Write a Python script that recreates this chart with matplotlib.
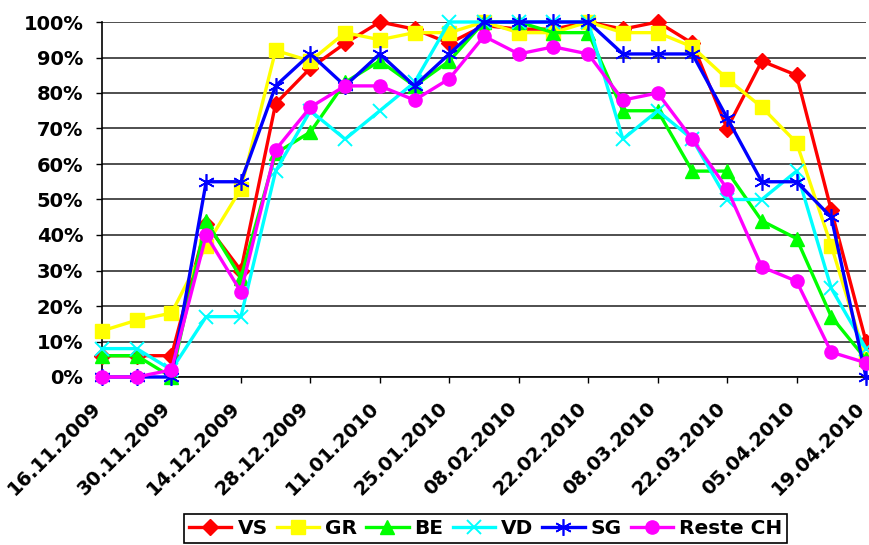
import matplotlib
matplotlib.use("Agg")
import matplotlib.pyplot as plt
from matplotlib.ticker import FuncFormatter, MultipleLocator
from matplotlib.transforms import ScaledTranslation

dates = ["16.11.2009", "23.11.2009", "30.11.2009", "07.12.2009", "14.12.2009",
         "21.12.2009", "28.12.2009", "04.01.2010", "11.01.2010", "18.01.2010",
         "25.01.2010", "01.02.2010", "08.02.2010", "15.02.2010", "22.02.2010",
         "01.03.2010", "08.03.2010", "15.03.2010", "22.03.2010", "29.03.2010",
         "05.04.2010", "12.04.2010", "19.04.2010"]

vs = [6, 6, 6, 43, 30, 77, 87, 94, 100, 98, 94, 99, 98, 98, 100, 98, 100, 94, 70, 89, 85, 47, 10]
gr = [13, 16, 18, 37, 53, 92, 89, 97, 95, 97, 97, 100, 97, 97, 100, 97, 97, 93, 84, 76, 66, 37, 5]
be = [6, 6, 0, 44, 28, 63, 69, 83, 89, 82, 89, 100, 100, 97, 97, 75, 75, 58, 58, 44, 39, 17, 5]
vd = [8, 8, 2, 17, 17, 58, 75, 67, 75, 83, 100, 100, 100, 100, 100, 67, 75, 67, 50, 50, 58, 25, 8]
sg = [0, 0, 0, 55, 55, 82, 91, 82, 91, 82, 91, 100, 100, 100, 100, 91, 91, 91, 73, 55, 55, 45, 0]
reste = [0, 0, 2, 40, 24, 64, 76, 82, 82, 78, 84, 96, 91, 93, 91, 78, 80, 67, 53, 31, 27, 7, 4]

series = [
    ("VS", vs, "#FF0000", "D", 8.5, {}),
    ("GR", gr, "#FFFF00", "s", 9.5, {}),
    ("BE", be, "#00FF00", "^", 10, {}),
    ("VD", vd, "#00FFFF", "x", 10, {"markeredgewidth": 1.4}),
    ("SG", sg, "#0000FF", (6, 2, 0), 12, {"markeredgewidth": 1.2}),
    ("Reste CH", reste, "#FF00FF", "o", 9.5, {}),
]

fig = plt.figure(figsize=(8.69, 5.45), dpi=100)
ax = fig.add_axes([102 / 869, 1 - 377 / 545, (866 - 102) / 869, (377 - 22) / 545])

x = list(range(len(dates)))
for i, (name, vals, col, mk, ms, extra) in enumerate(series):
    ax.plot(x, [v / 100 for v in vals], color=col, lw=2.4, marker=mk, markersize=ms,
            markerfacecolor=col, markeredgecolor=col, label=name, clip_on=False,
            zorder=3 + i, **extra)

ax.set_xlim(0, len(dates) - 1)
ax.set_ylim(0, 1)
ax.yaxis.set_major_locator(MultipleLocator(0.1))
ax.yaxis.set_major_formatter(FuncFormatter(lambda v, p: f"{v * 100:.0f}%"))
ax.yaxis.grid(True, color="#303030", lw=1.2)
ax.set_axisbelow(True)

ax.set_xticks(x[::2])
ax.set_xticklabels(dates[::2], rotation=45, ha="right", va="top", rotation_mode="anchor")

for s in ["top", "right"]:
    ax.spines[s].set_visible(False)
for s in ["left", "bottom"]:
    ax.spines[s].set_color("black")
    ax.spines[s].set_linewidth(1.2)

ax.tick_params(axis="y", direction="out", length=4.5, width=1, pad=9, labelsize=14)
ax.tick_params(axis="x", direction="out", length=4.5, width=1, pad=6, labelsize=14)
offset = ScaledTranslation(-11 / 100, -7 / 100, fig.dpi_scale_trans)
for lab in ax.get_xticklabels():
    lab.set_fontweight("bold")
    lab.set_transform(lab.get_transform() + offset)
for lab in ax.get_yticklabels():
    lab.set_fontweight("bold")

leg = fig.legend(loc="upper center", bbox_to_anchor=(0.559, 1 - 514 / 545), ncol=6,
                 frameon=True, fancybox=False, edgecolor="black", framealpha=1,
                 prop={"weight": "bold", "size": 14.5}, handlelength=2.1,
                 handletextpad=0.3, columnspacing=0.45, borderpad=0.25,
                 borderaxespad=0)
leg.get_frame().set_linewidth(1.2)

fig.savefig("out.png", dpi=100)
